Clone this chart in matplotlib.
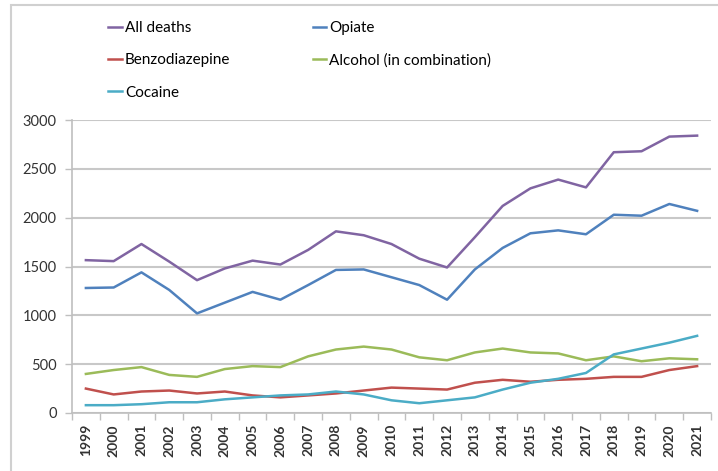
import matplotlib
matplotlib.use("Agg")
import matplotlib.pyplot as plt
from matplotlib.patches import Rectangle

years = [str(y) for y in range(1999, 2022)]

all_deaths = [1565, 1555, 1730, 1550, 1360, 1480, 1560, 1520, 1670, 1860, 1820, 1730,
              1580, 1490, 1800, 2120, 2300, 2390, 2310, 2670, 2680, 2830, 2840]
opiate = [1280, 1285, 1440, 1260, 1020, 1130, 1240, 1160, 1310, 1465, 1470, 1390,
          1310, 1160, 1470, 1690, 1840, 1870, 1830, 2030, 2020, 2140, 2070]
benzo = [250, 190, 220, 230, 200, 220, 180, 160, 180, 200, 230, 260,
         250, 240, 310, 340, 320, 340, 350, 370, 370, 440, 480]
alcohol = [400, 440, 470, 390, 370, 450, 480, 470, 580, 650, 680, 650,
           570, 540, 620, 660, 620, 610, 540, 580, 530, 560, 550]
cocaine = [80, 80, 90, 110, 110, 140, 160, 180, 190, 220, 190, 130,
           100, 130, 160, 240, 310, 350, 410, 600, 660, 720, 790]

plt.rcParams['font.family'] = ['Lato', 'DejaVu Sans']
plt.rcParams['font.size'] = 10.5

fig = plt.figure(figsize=(7.18, 4.71), dpi=100)
ax = fig.add_axes([72 / 718, 1 - 413 / 471, (711 - 72) / 718, (413 - 120) / 471])

# outer chart frame
fig.patches.append(Rectangle((11 / 718, -0.05), 1.2, (466 / 471) + 0.05, transform=fig.transFigure,
                             fill=False, edgecolor='#d0d0d0', linewidth=1.5))

x = list(range(len(years)))
lw = 1.8
l_all, = ax.plot(x, all_deaths, color='#8064A2', lw=lw, label='All deaths')
l_opi, = ax.plot(x, opiate, color='#4F81BD', lw=lw, label='Opiate')
l_ben, = ax.plot(x, benzo, color='#C0504D', lw=lw, label='Benzodiazepine')
l_alc, = ax.plot(x, alcohol, color='#9BBB59', lw=lw, label='Alcohol (in combination)')
l_coc, = ax.plot(x, cocaine, color='#4BACC6', lw=lw, label='Cocaine')

ax.set_xlim(-0.5, len(years) - 0.5)
ax.set_ylim(0, 3000)
ax.set_yticks(range(0, 3001, 500))
ax.set_xticks([i - 0.5 for i in range(len(years) + 1)], minor=False)
ax.set_xticklabels([''] * (len(years) + 1))
ax.set_xticks(x, minor=True)
ax.set_xticklabels(years, minor=True, rotation=90, fontweight='bold', color='#333333', fontsize=10)
ax.tick_params(axis='x', which='major', length=5, color='#bfbfbf', width=1)
ax.tick_params(axis='x', which='minor', length=0, pad=8)
ax.tick_params(axis='y', length=5, color='#bfbfbf', width=1, labelcolor='#333333', pad=6)

ax.grid(axis='y', color='#c8c8c8', linewidth=1.5)
ax.set_axisbelow(True)
for s in ['top', 'right']:
    ax.spines[s].set_visible(False)
ax.spines['left'].set_color('#bfbfbf')
ax.spines['bottom'].set_color('#bfbfbf')
ax.spines['left'].set_linewidth(1.2)
ax.spines['bottom'].set_linewidth(1.2)

handles = [l_all, l_ben, l_coc, l_opi, l_alc]
fig.legend(handles, [h.get_label() for h in handles], ncol=2, loc='upper left',
           bbox_to_anchor=(108 / 718, 1 - 21 / 471), frameon=False,
           handlelength=0.9, handletextpad=0.2, labelspacing=1.2, columnspacing=5.4,
           fontsize=11, borderaxespad=0, borderpad=0)

fig.savefig('out.png', dpi=100)
